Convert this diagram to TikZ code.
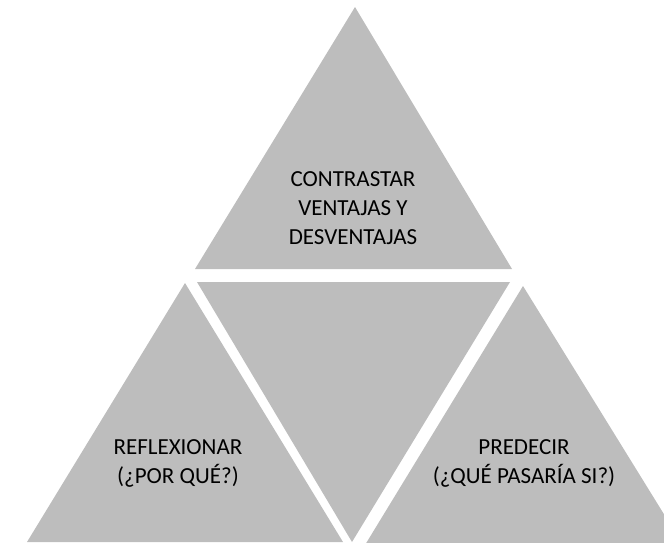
\documentclass[tikz,border=0pt]{standalone}
\usepackage{fontspec}
\setmainfont{Carlito}

\begin{document}
\begin{tikzpicture}[x=1pt,y=-1pt]
        \tikzset{piece/.style={fill=black!26,draw=none},
            caption/.style={align=center,text=black,inner sep=0pt,
                font=\fontsize{23}{29}\selectfont}}
        \path[use as bounding box] (0,0) rectangle (664,542);
        \clip (0,0) rectangle (664,542);
        % four pieces of the pyramid
        \coordinate (topapex) at (355,7);
        \coordinate (leftapex) at (185,283);
        \coordinate (rightapex) at (523,286);
        \coordinate (midtip) at (352,542);
        \fill[piece] (topapex) -- (512,269) -- (195,269) -- cycle;
        \fill[piece] (197,282) -- (510,282) -- (midtip) -- cycle;
        \fill[piece] (leftapex) -- (343,542) -- (27,542) -- cycle;
        \fill[piece] (rightapex) -- (683,545) -- (365,545) -- cycle;
        % texts
        \node[caption] (contrastar) at (353,208) {CONTRASTAR\\VENTAJAS Y\\DESVENTAJAS};
        \node[caption] (reflexionar) at (178,463) {REFLEXIONAR\\(¿POR QUÉ?)};
        \node[caption] (predecir) at (524,463) {PREDECIR\\(¿QUÉ PASARÍA SI?)};
    \end{tikzpicture}
\end{document}
